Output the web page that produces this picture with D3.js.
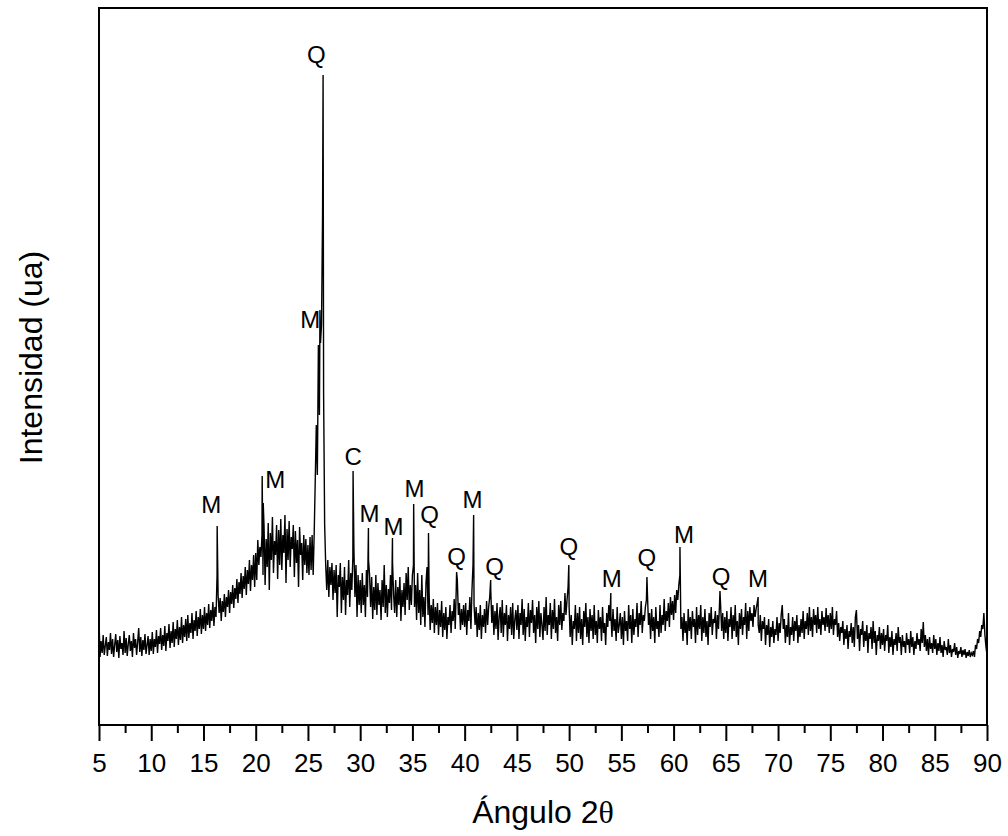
<!DOCTYPE html>
<html>
<head>
<meta charset="utf-8">
<script src="https://cdn.jsdelivr.net/npm/d3@7"></script>
<style>
	body { margin: 0; background: #fff; }
	svg { display: block; font-family: 'Liberation Sans', Arial, sans-serif; }
</style>
</head>
<body>
<script>
// Diffractogram: the scan every 0.1 deg from 5 deg (one row = 5 deg),
// plus the sharp reflections that fall between scan points
const angleStart = 5
const angleStep = 0.1
const scan = [
	105, 68, 84, 72, 90, 70, 79, 88, 69, 83, 75, 92, 71, 86, 68, 80, 91, 73, 85, 67, 89, 76, 82, 70, 94,
	72, 87, 69, 81, 90, 74, 84, 68, 92, 77, 86, 70, 83, 97, 73, 88, 69, 85, 75, 91, 71, 80, 89, 70, 86, // 5
	74, 93, 71, 86, 78, 95, 72, 89, 81, 97, 75, 90, 79, 99, 74, 92, 84, 101, 77, 94, 82, 103, 78, 96, 86,
	105, 80, 98, 85, 108, 82, 100, 88, 106, 84, 110, 87, 102, 92, 112, 86, 105, 94, 114, 89, 108, 96, 116, 91, 110, // 10
	96, 118, 94, 112, 100, 121, 97, 115, 104, 123, 99, 118, 108, 150, 130, 112, 127, 104, 124, 113, 131, 108, 128, 118, 135,
	112, 133, 121, 140, 117, 137, 126, 146, 122, 143, 131, 152, 127, 149, 136, 158, 130, 155, 141, 165, 134, 160, 145, 170, 138, // 15
	172, 145, 185, 160, 178, 168, 190, 150, 198, 140, 186, 158, 202, 135, 192, 165, 208, 152, 184, 170, 200, 146, 195, 160, 206,
	155, 190, 172, 210, 142, 196, 165, 204, 158, 188, 176, 200, 148, 194, 162, 185, 138, 198, 170, 182, 145, 190, 160, 186, 152, // 20
	180, 150, 188, 155, 190, 150, 192, 245, 300, 250, 380, 310, 382, 400, 511, 330, 200, 160, 135, 165, 128, 158, 140, 162, 125,
	155, 132, 160, 108, 150, 138, 162, 112, 148, 125, 158, 110, 145, 130, 165, 118, 152, 135, 168, 176, 128, 160, 108, 150, 120, // 25
	145, 112, 152, 120, 140, 108, 155, 128, 165, 150, 118, 148, 106, 138, 115, 150, 110, 142, 120, 135, 105, 145, 118, 160, 112,
	140, 108, 136, 122, 150, 115, 162, 130, 112, 145, 108, 138, 120, 148, 104, 135, 118, 142, 110, 152, 125, 158, 115, 140, 120, // 30
	150, 160, 118, 140, 105, 152, 112, 135, 100, 150, 108, 128, 98, 142, 158, 110, 132, 95, 120, 102, 126, 92, 118, 100, 122,
	90, 115, 98, 124, 88, 112, 95, 118, 86, 108, 100, 120, 92, 114, 104, 126, 96, 138, 145, 110, 122, 95, 116, 100, 120, // 35
	98, 122, 90, 115, 104, 128, 96, 135, 160, 120, 100, 118, 88, 112, 95, 120, 86, 110, 98, 116, 92, 124, 100, 118, 128,
	135, 102, 120, 90, 114, 96, 122, 85, 108, 118, 92, 125, 88, 112, 100, 120, 84, 110, 96, 118, 90, 122, 86, 105, 115, // 40
	95, 120, 86, 112, 100, 126, 90, 116, 84, 108, 98, 122, 88, 115, 102, 125, 92, 110, 82, 118, 96, 124, 88, 112, 100,
	85, 118, 94, 128, 90, 110, 100, 122, 86, 115, 96, 126, 92, 108, 84, 120, 100, 124, 95, 112, 104, 132, 110, 125, 138, // 45
	118, 88, 110, 80, 104, 96, 120, 84, 112, 92, 118, 86, 106, 80, 114, 98, 122, 88, 108, 82, 116, 94, 110, 86, 120,
	90, 104, 82, 115, 96, 108, 84, 118, 92, 102, 80, 112, 98, 120, 104, 110, 88, 116, 94, 106, 84, 118, 92, 100, 112, // 50
	86, 108, 80, 114, 94, 104, 84, 120, 96, 110, 82, 116, 90, 106, 98, 122, 88, 112, 100, 124, 92, 110, 104, 118, 125,
	130, 100, 112, 86, 116, 94, 108, 82, 118, 96, 104, 88, 120, 92, 110, 100, 126, 94, 114, 104, 122, 98, 128, 110, 124, // 55
	105, 130, 112, 135, 125, 140, 150, 96, 108, 84, 112, 92, 104, 80, 116, 94, 108, 86, 114, 98, 106, 82, 118, 90, 110,
	96, 120, 84, 108, 92, 116, 88, 104, 80, 112, 98, 118, 90, 106, 102, 114, 86, 110, 96, 122, 120, 94, 112, 86, 108, // 60
	92, 114, 84, 106, 98, 118, 86, 110, 94, 120, 88, 104, 80, 112, 96, 116, 90, 108, 100, 122, 86, 114, 94, 118, 104,
	112, 98, 120, 108, 116, 122, 100, 92, 110, 84, 104, 96, 108, 80, 100, 90, 106, 78, 98, 88, 104, 82, 96, 90, 108, // 65
	84, 102, 92, 110, 120, 96, 106, 82, 100, 88, 112, 80, 98, 90, 108, 84, 104, 94, 110, 82, 100, 88, 106, 92, 114,
	86, 104, 96, 112, 90, 118, 94, 108, 88, 116, 100, 110, 92, 118, 96, 106, 90, 114, 100, 108, 94, 117, 98, 110, 92, // 70
	112, 96, 118, 90, 106, 100, 114, 88, 102, 84, 98, 92, 104, 80, 96, 86, 100, 76, 94, 88, 102, 82, 98, 78, 108,
	115, 86, 100, 74, 96, 90, 104, 78, 94, 84, 100, 72, 92, 86, 98, 76, 104, 82, 94, 70, 90, 84, 98, 76, 92, // 75
	80, 96, 74, 90, 84, 100, 72, 88, 78, 94, 70, 86, 80, 92, 74, 98, 82, 88, 70, 90, 78, 84, 72, 92, 80,
	86, 72, 94, 78, 88, 70, 84, 76, 92, 80, 86, 74, 96, 82, 103, 78, 90, 74, 86, 70, 88, 76, 82, 72, 90, // 80
	76, 86, 70, 82, 74, 88, 72, 80, 68, 84, 75, 78, 70, 86, 72, 80, 68, 76, 73, 82, 70, 78, 67, 74, 71,
	78, 68, 75, 70, 76, 67, 73, 69, 75, 68, 72, 70, 74, 68, 80, 76, 86, 82, 94, 88, 100, 96, 112, 90, 78, // 85
	70, // 90
]
const peaks = [
	[16.31, 199], [20.62, 249], [20.72, 222], [26.15, 415], [26.45, 650],
	[29.32, 254], [30.79, 197], [33.09, 187], [35.12, 221], [36.54, 192], [39.23, 153],
	[40.86, 210], [42.49, 145], [49.97, 160], [53.99, 132], [57.45, 148], [60.61, 178],
	[64.44, 134], [68.09, 128],
]
// Phase marks: letter, angle and intensity of the letter's baseline
const labels = [
	['M', 15.74, 212], ['M', 21.87, 237], ['M', 25.23, 397], ['Q', 25.8, 662],
	['C', 29.32, 260], ['M', 30.89, 203], ['M', 33.19, 190], ['M', 35.2, 228],
	['Q', 36.64, 202], ['Q', 39.23, 160], ['M', 40.76, 217], ['Q', 42.87, 150],
	['Q', 49.97, 170], ['M', 54.09, 138], ['Q', 57.45, 159], ['M', 60.99, 182],
	['Q', 64.54, 140], ['M', 68.09, 138],
]
const xTicks = d3.range(5, 91, 5)
const xMinorTicks = d3.range(7.5, 90, 5)

const width = 1008
const height = 836
const margin = { top: 8, right: 21, bottom: 111, left: 99 }

const svg = d3.select('body').append('svg')
	.attr('width', width)
	.attr('height', height)

const x = d3.scaleLinear().domain([5, 90]).range([margin.left, width - margin.right])
const y = d3.scaleLinear().domain([0, 717]).range([height - margin.bottom, margin.top])

const series = scan
	.map((v, i) => [angleStart + i * angleStep, v])
	.concat(peaks)
	.sort((a, b) => a[0] - b[0])

svg.append('path')
	.datum(series)
	.attr('fill', 'none')
	.attr('stroke', '#000')
	.attr('stroke-width', 1.4)
	.attr('d', d3.line().x(d => x(d[0])).y(d => y(d[1])))

svg.selectAll('text.phase').data(labels).join('text').classed('phase', true)
	.attr('x', d => x(d[1]))
	.attr('y', d => y(d[2]))
	.attr('text-anchor', 'middle')
	.attr('font-size', 24)
	.text(d => d[0])

// minor ticks first, then the labelled ones
svg.append('g')
	.attr('transform', `translate(0, ${height - margin.bottom})`)
	.call(d3.axisBottom(x).tickValues(xMinorTicks).tickSize(8).tickFormat(''))
const majorAxis = svg.append('g')
	.attr('transform', `translate(0, ${height - margin.bottom})`)
	.call(d3.axisBottom(x).tickValues(xTicks).tickSize(16).tickPadding(12.5))
svg.selectAll('.domain').remove()
svg.selectAll('.tick line').attr('stroke', '#000').attr('stroke-width', 2)
majorAxis.selectAll('.tick text')
	.attr('fill', '#000')
	.attr('font-family', "'Liberation Sans', Arial, sans-serif")
	.attr('font-size', 26)

svg.append('rect')
	.attr('x', x(5))
	.attr('y', margin.top)
	.attr('width', x(90) - x(5))
	.attr('height', height - margin.bottom - margin.top)
	.attr('fill', 'none')
	.attr('stroke', '#000')
	.attr('stroke-width', 2)

const xTitle = svg.append('text')
	.attr('x', (x(5) + x(90)) / 2)
	.attr('y', 823)
	.attr('text-anchor', 'middle')
	.attr('font-size', 32)
xTitle.append('tspan').text('Ángulo 2')
xTitle.append('tspan').attr('font-family', "'Liberation Serif', serif").text('θ')

svg.append('text')
	.attr('transform', `translate(42, ${(y(0) + y(717)) / 2 - 9}) rotate(-90)`)
	.attr('text-anchor', 'middle')
	.attr('font-size', 32)
	.text('Intensidad (ua)')
</script>
</body>
</html>
